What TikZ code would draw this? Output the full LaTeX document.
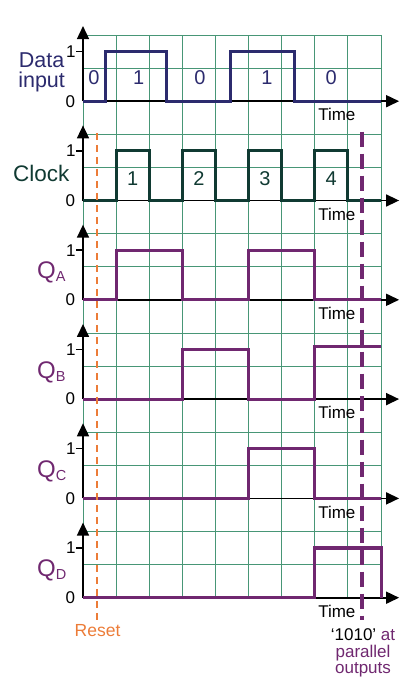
\documentclass[tikz,border=0pt]{standalone}
\usepackage{fontspec}
\setmainfont{Liberation Sans}
\usetikzlibrary{arrows.meta}
\definecolor{datacol}{RGB}{44,43,110}
\definecolor{clkcol}{RGB}{16,58,50}
\definecolor{qcol}{RGB}{112,40,112}
\definecolor{resetcol}{RGB}{236,124,56}
\definecolor{gridcol}{RGB}{72,150,118}
\begin{document}
\begin{tikzpicture}[x=33.1pt,y=-33.1pt,
  gridline/.style={draw=gridcol, line width=0.8pt},
  axisline/.style={draw=black, line width=1.6pt, -{Triangle[length=13pt,width=12pt]}},
  sig/.style={line width=3.2pt, line join=miter, line cap=butt},
  ticklbl/.style={font=\fontsize{17}{17}\selectfont, inner sep=0.5pt},
  timelbl/.style={font=\fontsize{17}{17}\selectfont, inner sep=0pt, anchor=base},
  biglbl/.style={font=\fontsize{22.5}{22.5}\selectfont, inner sep=0pt, anchor=base},
  qlbl/.style={font=\fontsize{24}{24}\selectfont, text=qcol, inner sep=0pt, anchor=base west},
  digit/.style={font=\fontsize{20}{20}\selectfont, inner sep=0pt, anchor=base},
  smalltxt/.style={font=\fontsize{17.5}{17.5}\selectfont, inner sep=0pt, anchor=base}
]
\useasboundingbox (-2.5076,-1.0574) rectangle (9.8792,19.698);
% grid
\foreach \i in {0,...,9} \draw[gridline] (\i,0) -- (\i,17);
\foreach \j in {0,...,17} \draw[gridline] (0,\j) -- (9,\j);
% axes, ticks, labels for each channel
\foreach \z/\n in {2/a,5/b,8/c,11/d,14/e,17/f}{
  \draw[axisline] (0,\z) -- (0,\z-2.27);
  \draw[axisline] (0,\z) -- (9.55,\z);
  \draw[black, line width=1.4pt] (-0.2,\z-1.5) -- (0,\z-1.5);
  \node[ticklbl, anchor=east] (one\n) at (-0.2,\z-1.5) {1};
  \node[ticklbl, anchor=east] (zero\n) at (-0.22,\z) {0};
  \node[timelbl] (time\n) at (7.67,\z+0.595) {Time};
}
% channel labels
\node[font=\fontsize{21.5}{19.5}\selectfont, inner sep=0pt, align=center, anchor=north, text=datacol] (datal) at (-1.25,0.53) {Data\\input};
\node[biglbl, text=clkcol] (clkl) at (-1.26,4.43) {Clock};
\node[qlbl] (qa) at (-1.39,7.37) {Q\raisebox{-3pt}{\fontsize{14.5}{15}\selectfont A}};
\node[qlbl] (qb) at (-1.39,10.37) {Q\raisebox{-3pt}{\fontsize{14.5}{15}\selectfont B}};
\node[qlbl] (qc) at (-1.39,13.37) {Q\raisebox{-3pt}{\fontsize{14.5}{15}\selectfont C}};
\node[qlbl] (qd) at (-1.39,16.37) {Q\raisebox{-3pt}{\fontsize{14.5}{15}\selectfont D}};
% data signal
\draw[sig, datacol] (0,2) -- (0.69,2) -- (0.69,0.5) -- (2.53,0.5) -- (2.53,2) -- (4.46,2) -- (4.46,0.5) -- (6.38,0.5) -- (6.38,2) -- (9,2);
\node[digit, text=datacol] (d1) at (0.33,1.51) {0};
\node[digit, text=datacol] (d2) at (1.68,1.51) {1};
\node[digit, text=datacol] (d3) at (3.53,1.51) {0};
\node[digit, text=datacol] (d4) at (5.56,1.51) {1};
\node[digit, text=datacol] (d5) at (7.5,1.51) {0};
% clock
\draw[sig, clkcol] (0,5) -- (1,5) -- (1,3.5) -- (2,3.5) -- (2,5) -- (3,5) -- (3,3.5) -- (4,3.5) -- (4,5) -- (5,5) -- (5,3.5) -- (6,3.5) -- (6,5) -- (7,5) -- (7,3.5) -- (8,3.5) -- (8,5) -- (9,5);
\node[digit, text=clkcol] (c1) at (1.5,4.55) {1};
\node[digit, text=clkcol] (c2) at (3.5,4.55) {2};
\node[digit, text=clkcol] (c3) at (5.5,4.55) {3};
\node[digit, text=clkcol] (c4) at (7.5,4.55) {4};
% outputs
\draw[sig, qcol] (0,8) -- (1,8) -- (1,6.5) -- (3,6.5) -- (3,8) -- (5,8) -- (5,6.5) -- (7,6.5) -- (7,8) -- (9,8);
\draw[sig, qcol] (0,11) -- (3,11) -- (3,9.5) -- (5,9.5) -- (5,11) -- (7,11) -- (7,9.4) -- (9,9.4);
\draw[sig, qcol] (0,14) -- (5,14) -- (5,12.5) -- (7,12.5) -- (7,14) -- (9,14);
\draw[sig, qcol] (0,17) -- (7,17) -- (7,15.5) -- (9.03,15.5) -- (9.03,17);
% reset
\coordinate (rtop) at (0.414,2.96);
\coordinate (rbot) at (0.414,17.67);
\draw[resetcol, line width=1.8pt, dash pattern=on 7pt off 5pt] (rtop) -- (rbot);
\node[smalltxt, text=resetcol] (reset) at (0.44,18.16) {Reset};
% parallel output marker
\coordinate (ptop) at (8.44,2.92);
\coordinate (pbot) at (8.44,17.67);
\draw[qcol, line width=4pt, dash pattern=on 15pt off 7pt] (ptop) -- (pbot);
\node[font=\fontsize{17}{16.5}\selectfont, inner sep=0pt, align=center, anchor=north] (par) at (8.46,17.94) {‘1010’ \textcolor{qcol}{at}\\\textcolor{qcol}{parallel}\\\textcolor{qcol}{outputs}};
\end{tikzpicture}
\end{document}
